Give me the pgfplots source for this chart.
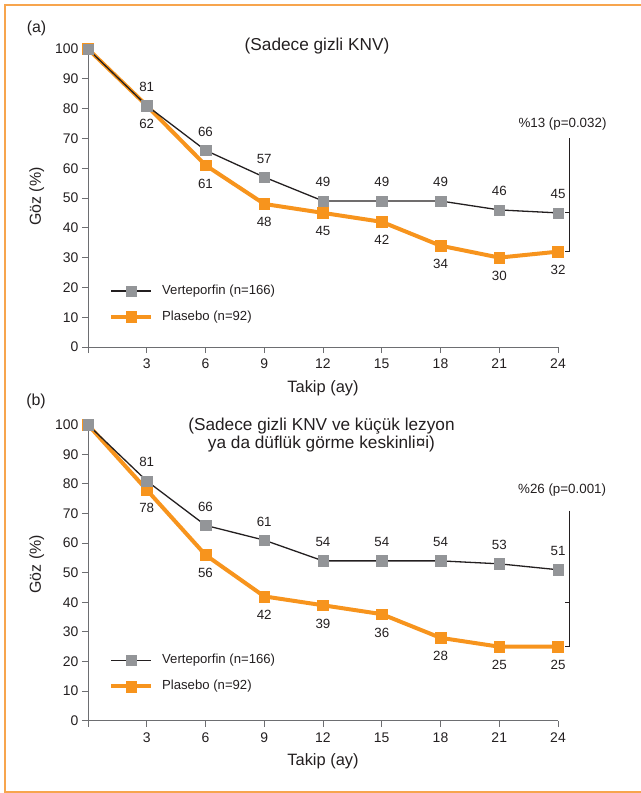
\documentclass[border=0pt]{standalone}
\usepackage{fontspec}
\setmainfont{Liberation Sans}
\usepackage{pgfplots}
\usepackage{pgfplotstable}
\pgfplotsset{compat=1.18}

\definecolor{vgray}{HTML}{939598}
\definecolor{porange}{HTML}{F7941D}
\definecolor{inkblack}{HTML}{231F20}
\definecolor{axisgray}{HTML}{6D6E71}
\definecolor{frameorange}{HTML}{F7A54E}

% (a) occult CNV only
\pgfplotstableread{
x  y   lab
0  100 {}
3  81  81
6  66  66
9  57  57
12 49  49
15 49  49
18 49  49
21 46  46
24 45  45
}\vertA
\pgfplotstableread{
x  y   lab
0  100 {}
3  81  62
6  61  61
9  48  48
12 45  45
15 42  42
18 34  34
21 30  30
24 32  32
}\placA

% (b) occult CNV with small lesion or low visual acuity
\pgfplotstableread{
x  y   lab
0  100 {}
3  81  81
6  66  66
9  61  61
12 54  54
15 54  54
18 54  54
21 53  53
24 51  51
}\vertB
\pgfplotstableread{
x  y   lab
0  100 {}
3  78  78
6  56  56
9  42  42
12 39  39
15 36  36
18 28  28
21 25  25
24 25  25
}\placB

\pgfplotsset{
  panel/.style={
    scale only axis, width=470bp,
    xmin=0, xmax=24, ymin=0, ymax=100, clip=false,
    axis x line*=bottom, axis y line*=left,
    axis line style={-, draw=axisgray, line width=0.9bp},
    xtick={0,3,...,24}, xticklabels={,3,6,9,12,15,18,21,24},
    ytick={0,10,...,100},
    tick align=outside, major tick length=6bp,
    every tick/.style={draw=axisgray, line width=0.9bp},
    tick label style={font=\fontsize{14}{16}\selectfont, text=inkblack},
    xticklabel style={yshift=-2.5bp},
    /pgf/number format/assume math mode=true,
    xlabel={Takip (ay)}, ylabel={Göz (\%)},
    xlabel style={font=\fontsize{16.5}{19}\selectfont, text=inkblack,
      at={(axis description cs:0.5,-0.137)}, anchor=center},
    ylabel style={font=\fontsize{16}{19}\selectfont, text=inkblack, anchor=center},
    reverse legend,
    legend cell align=left,
    legend style={draw=none, fill=none, inner sep=0pt,
      font=\fontsize{13.2}{15}\selectfont, text=inkblack,
      nodes={inner sep=0pt, text height=9.5bp, text depth=3bp},
      row sep=13.5bp,
      /tikz/every odd column/.append style={column sep=9bp}},
    legend image code/.code={
      \draw[mark repeat=2, mark phase=2] plot coordinates {(0bp,0bp) (20bp,0bp) (40bp,0bp)};},
  },
  vert/.style={inkblack, line width=1.3bp, mark=square*, mark size=5.2bp,
    mark options={draw=vgray, fill=vgray, line width=0.4bp},
    nodes near coords, point meta=explicit symbolic,
    every node near coord/.style={anchor=base, inner sep=0pt, yshift=14bp,
      font=\fontsize{13.4}{15}\selectfont, text=inkblack}},
  plac/.style={porange, line width=4bp, mark=square*, mark size=5.4bp,
    mark options={draw=porange, fill=porange, line width=0.4bp},
    nodes near coords, point meta=explicit symbolic,
    every node near coord/.style={anchor=base, inner sep=0pt, yshift=-23bp,
      font=\fontsize{13.4}{15}\selectfont, text=inkblack}},
}

\begin{document}
\begin{tikzpicture}
\path[use as bounding box] (0bp,0bp) rectangle (641bp,-793bp);
\draw[frameorange, line width=1.3bp] (5bp,-5bp) rectangle (650bp,-792bp);

\node[font=\fontsize{16}{18}\selectfont, text=inkblack] at (36.5bp,-28bp) {(a)};
\node[font=\fontsize{17.3}{20}\selectfont, text=inkblack] at (317bp,-46bp) {(Sadece gizli KNV)};
\node[font=\fontsize{16}{18}\selectfont, text=inkblack] at (36bp,-401bp) {(b)};
\node[font=\fontsize{17.3}{18.5}\selectfont, text=inkblack, align=center] at (321.5bp,-435bp)
  {(Sadece gizli KNV ve küçük lezyon\\ya da düflük görme keskinli¤i)};

\begin{axis}[panel, at={(88bp,-347bp)}, anchor=south west, height=298bp,
    ylabel style={at={(axis description cs:-0.109,0.505)}},
    legend style={at={(axis cs:1.07,14.4)}, anchor=west}]
  \addplot[plac] table[x=x, y=y, meta=lab] {\placA};
  \addlegendentry{Plasebo (n=92)}
  \addplot[vert] table[x=x, y=y, meta=lab] {\vertA};
  \addlegendentry{Verteporfin (n=166)}
  \draw[inkblack, line width=1bp] (axis cs:24.58,70) -- (axis cs:24.58,32) -- (axis cs:24.35,32);
  \draw[inkblack, line width=1bp] (axis cs:24.58,45) -- (axis cs:24.35,45);
  \node[font=\fontsize{13.4}{15}\selectfont, text=inkblack] at (axis cs:24.23,74.8) {\%13 (p=0.032)};
\end{axis}

\begin{axis}[panel, at={(88bp,-720.7bp)}, anchor=south west, height=296bp,
    ylabel style={at={(axis description cs:-0.109,0.528)}},
    legend style={at={(axis cs:1.07,16)}, anchor=west}]
  \addplot[plac] table[x=x, y=y, meta=lab] {\placB};
  \addlegendentry{Plasebo (n=92)}
  \addplot[vert] table[x=x, y=y, meta=lab] {\vertB};
  \addlegendentry{Verteporfin (n=166)}
  \draw[inkblack, line width=1bp] (axis cs:24.58,71) -- (axis cs:24.58,25) -- (axis cs:24.35,25);
  \draw[inkblack, line width=1bp] (axis cs:24.58,40) -- (axis cs:24.35,40);
  \node[font=\fontsize{13.4}{15}\selectfont, text=inkblack] at (axis cs:24.21,77.8) {\%26 (p=0.001)};
\end{axis}
\end{tikzpicture}
\end{document}
